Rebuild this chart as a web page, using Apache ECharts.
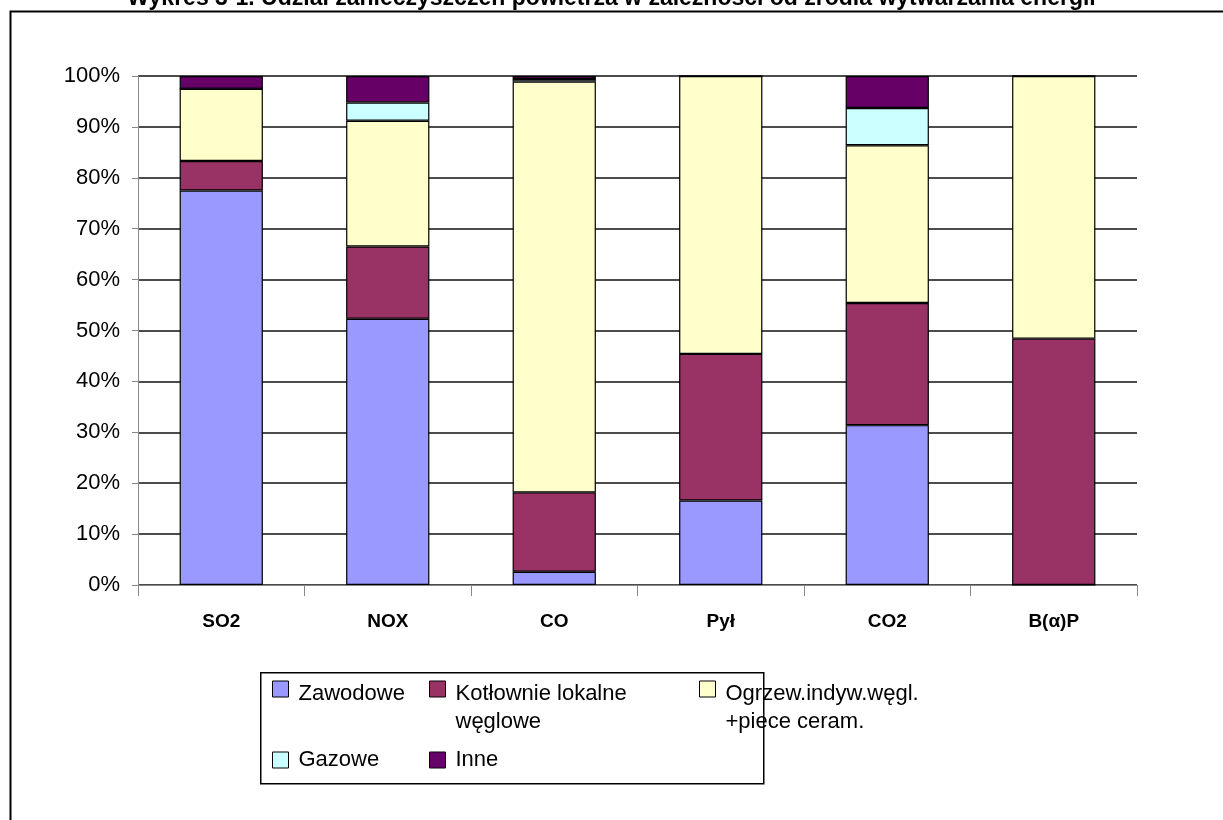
<!DOCTYPE html>
<html>
<head>
<meta charset="utf-8">
<script src="https://cdn.jsdelivr.net/npm/echarts@6/dist/echarts.min.js"></script>
<style>
html,body{margin:0;padding:0;background:#fff;}
#chart{width:1223px;height:820px;}
</style>
</head>
<body>
<div id="chart"></div>
<script>
const titleText = 'Wykres 3-1. Udział zanieczyszczeń powietrza w zależności od źródła wytwarzania energii';
const categories = ['SO2', 'NOX', 'CO', 'Pył', 'CO2', 'B(α)P'];
const seriesNames = ['Zawodowe', 'Kotłownie lokalne\nwęglowe', 'Ogrzew.indyw.węgl.\n+piece ceram.', 'Gazowe', 'Inne'];
const zawodowe = [77.5, 52.3, 2.6, 16.6, 31.4, 0];
const kotlownie = [5.8, 14.2, 15.6, 28.8, 24.0, 48.4];
const ogrzew = [14.2, 24.7, 80.7, 54.6, 31.0, 51.6];
const gazowe = [0, 3.6, 0.5, 0, 7.3, 0];
const inne = [2.5, 5.2, 0.6, 0, 6.3, 0];
const colors = ['#9999FF', '#993366', '#FFFFCC', '#CCFFFF', '#660066'];
const yTicks = [0, 10, 20, 30, 40, 50, 60, 70, 80, 90, 100];

const seriesData = [zawodowe, kotlownie, ogrzew, gazowe, inne];
const FONT = '"Liberation Sans", Arial, sans-serif';

const chart = echarts.init(document.getElementById('chart'), null, {renderer: 'canvas'});

// legend positions (layout only)
const legendPos = [
  {left: 272, top: 670, row1: true},
  {left: 429, top: 642, row1: true},
  {left: 699, top: 642, row1: true},
  {left: 272, top: 746, row1: false},
  {left: 429, top: 746, row1: false}
];

const legends = seriesNames.map((name, i) => {
  const p = legendPos[i];
  return {
    data: [name],
    left: p.left,
    top: p.top,
    padding: 0,
    itemWidth: 16,
    itemHeight: 16,
    itemGap: 0,
    icon: 'rect',
    selectedMode: false,
    itemStyle: {borderColor: '#000', borderWidth: 1},
    formatter: function (n) {
      const lines = n.split('\n');
      let out = lines.map(l => '{t|' + l + '}').join('\n');
      if (p.row1) {
        out = (lines.length > 1 ? '{e2| }' : '{e1| }') + '\n' + out;
      }
      return out;
    },
    textStyle: {
      fontFamily: FONT,
      fontSize: 22,
      color: '#000',
      lineHeight: 28,
      rich: {
        t: {fontFamily: FONT, fontSize: 22, color: '#000', lineHeight: 28, padding: [0, 0, 0, 5]},
        e1: {fontFamily: FONT, fontSize: 6, lineHeight: 10},
        e2: {fontFamily: FONT, fontSize: 6, lineHeight: 38}
      }
    }
  };
});

const option = {
  animation: false,
  backgroundColor: '#fff',
  title: {
    text: titleText,
    left: 'center',
    top: -18,
    textStyle: {fontFamily: FONT, fontSize: 23, fontWeight: 'bold', color: '#000'}
  },
  graphic: [
    {type: 'rect', left: 8, top: 9, shape: {width: 1400, height: 1000}, style: {fill: 'none', stroke: '#000', lineWidth: 2}, z: -1},
    {type: 'rect', left: 260, top: 672, shape: {width: 503, height: 111}, style: {fill: '#fff', stroke: '#000', lineWidth: 1.5}, z: 0}
  ],
  legend: legends,
  grid: {left: 138, right: 86, top: 76, bottom: 235, containLabel: false},
  xAxis: {
    type: 'category',
    data: categories,
    boundaryGap: true,
    axisLine: {show: true, lineStyle: {color: '#888', width: 1}},
    axisTick: {show: true, length: 11, lineStyle: {color: '#888'}},
    axisLabel: {fontFamily: FONT, fontSize: 19, fontWeight: 'bold', color: '#000', margin: 27},
    splitLine: {show: false}
  },
  yAxis: {
    type: 'value',
    min: 0,
    max: 100,
    interval: 10,
    axisLine: {show: true, lineStyle: {color: '#888', width: 1}},
    axisTick: {show: true, length: 6, lineStyle: {color: '#888'}},
    axisLabel: {fontFamily: FONT, fontSize: 22, color: '#000', margin: 18, formatter: v => yTicks.includes(v) ? v + '%' : ''},
    splitLine: {show: true, lineStyle: {color: '#111', width: 1.5}}
  },
  series: seriesNames.map((name, i) => ({
    name: name,
    type: 'bar',
    stack: 'total',
    barCategoryGap: '50%',
    data: seriesData[i],
    itemStyle: {color: colors[i], borderColor: '#000', borderWidth: 1.2},
    emphasis: {disabled: true}
  }))
};

chart.setOption(option);
</script>
</body>
</html>
